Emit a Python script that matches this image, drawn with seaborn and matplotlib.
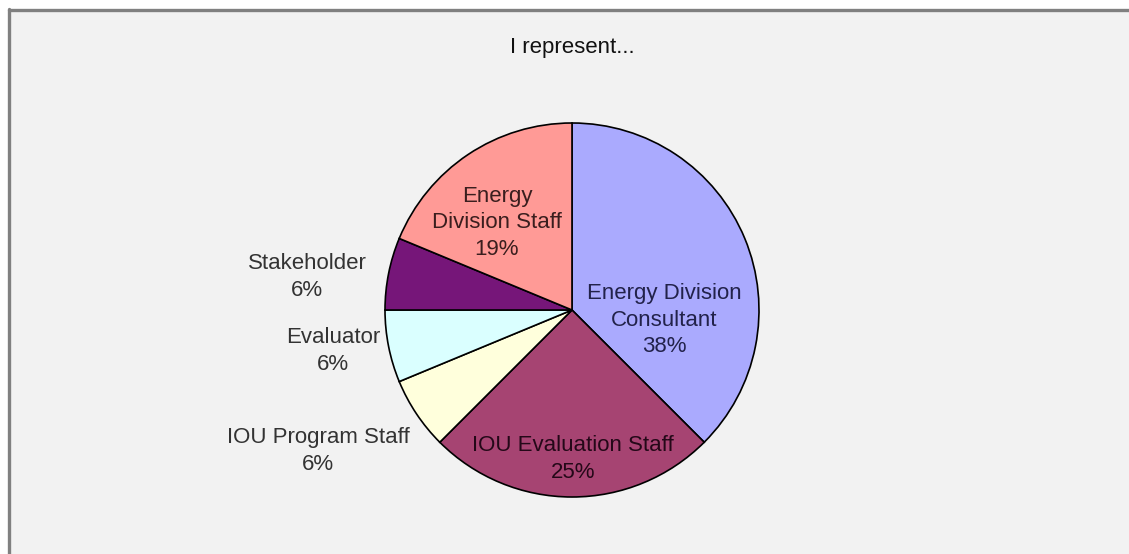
import matplotlib
matplotlib.use("Agg")
import matplotlib.pyplot as plt
import matplotlib.patches as mpatches
import seaborn as sns

# ---- data ----
categories = ["Energy Division\nConsultant", "IOU Evaluation Staff", "IOU Program Staff",
              "Evaluator", "Stakeholder", "Energy\nDivision Staff"]
shares = [37.5, 25.0, 6.25, 6.25, 6.25, 18.75]
pct_labels = ["38%", "25%", "6%", "6%", "6%", "19%"]
title = "I represent..."

# ---- style ----
sns.set_style("white")
plt.rcParams["font.family"] = ["Liberation Sans", "DejaVu Sans"]
palette = sns.color_palette(["#AAAAFE", "#A64472", "#FFFFDC", "#DAFFFF", "#761679", "#FF9A96"])

W, H = 1129, 554
fig = plt.figure(figsize=(W / 100, H / 100), dpi=100)
fig.patch.set_facecolor("white")

# panel background with top/left shadow border
bg = mpatches.Rectangle((8 / W, 0), 1, 1 - 9 / H, transform=fig.transFigure,
                        facecolor="#F2F2F2", edgecolor="none", zorder=0)
fig.add_artist(bg)
fig.add_artist(plt.Line2D([8.5 / W, 1], [1 - 9.5 / H, 1 - 9.5 / H], transform=fig.transFigure,
                          color="#808080", lw=2.4, zorder=1))
fig.add_artist(plt.Line2D([8.5 / W, 8.5 / W], [0, 1 - 8.5 / H], transform=fig.transFigure,
                          color="#808080", lw=2.4, zorder=1))

ax = fig.add_axes([0, 0, 1, 1])
ax.patch.set_alpha(0)

cx, cy, r = 572, H - 310, 187
ax.pie(shares, startangle=90, counterclock=False, colors=palette,
       center=(cx, cy), radius=r, frame=True,
       wedgeprops=dict(edgecolor="black", linewidth=1.2))
ax.set_xlim(0, W)
ax.set_ylim(0, H)
ax.set_aspect("equal")
ax.axis("off")

# label layout (pixel positions, y measured from top)
label_pos = [(664, 320), (573, 459), (318, 451), (333, 351), (307, 277), (497, 223)]
label_col = ["#22224A", "#240818", "#333333", "#333333", "#333333", "#3A1E1E"]
for cat, pct, (lx, ly), col in zip(categories, pct_labels, label_pos, label_col):
    ax.text(lx, H - ly, f"{cat}\n{pct}", ha="center", va="center", fontsize=16,
            color=col, linespacing=1.35)

ax.text(572, H - 48, title, ha="center", va="center", fontsize=16, color="#111111")

fig.savefig("out.png", dpi=100, facecolor=fig.get_facecolor())
